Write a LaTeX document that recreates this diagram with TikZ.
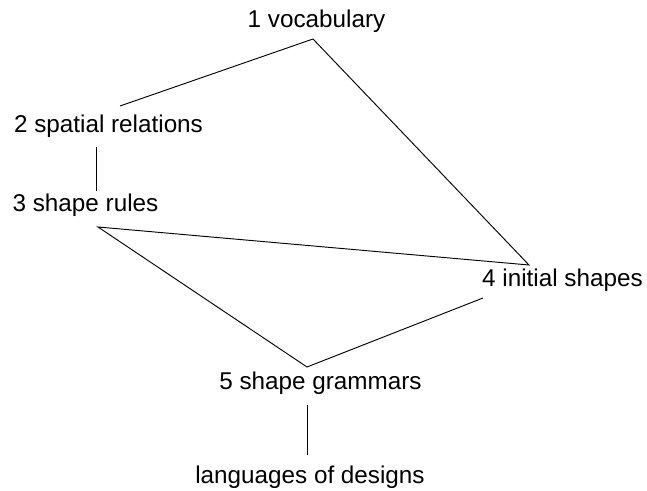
\documentclass[tikz,border=0pt]{standalone}
\usepackage{fontspec}
\setmainfont{Liberation Sans}
\usetikzlibrary{positioning}

\begin{document}
\begin{tikzpicture}[x=0.75pt,y=-0.75pt,font=\fontsize{18.2}{22}\selectfont]
\tikzset{lbl/.style={inner sep=0pt,anchor=base},
  link/.style={draw=black,line width=0.7pt}}
\useasboundingbox (0,0) rectangle (647,491);
\node[lbl] (voc) at (316.5,28) {1 vocabulary};
\node[lbl] (spat) at (108.5,133) {2 spatial relations};
\node[lbl] (rules) at (85.5,212) {3 shape rules};
\node[lbl] (init) at (562.5,287) {4 initial shapes};
\node[lbl] (gram) at (320.5,390) {5 shape grammars};
\node[lbl] (lang) at (310,484) {languages of designs};
% corner points of the lines
\coordinate (vocB) at (313,39);
\coordinate (spatT) at (120,106);
\coordinate (spatB) at (96,147);
\coordinate (rulesT) at (96,191);
\coordinate (rulesB) at (98,227);
\coordinate (initT) at (529,265);
\coordinate (initL) at (483,298);
\coordinate (gramT) at (307,367);
\coordinate (gramB) at (307,405);
\coordinate (langT) at (307,455);
\draw[link] (spatT)--(vocB)--(initT)--(rulesB)--(gramT)--(initL);
\draw[link] (spatB)--(rulesT);
\draw[link] (gramB)--(langT);
\end{tikzpicture}
\end{document}
